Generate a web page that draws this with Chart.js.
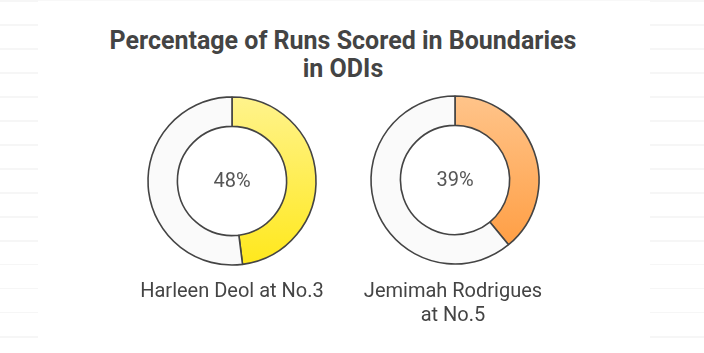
<!DOCTYPE html>
<html>
<head>
<meta charset="utf-8">
<script src="https://cdn.jsdelivr.net/npm/chart.js@4"></script>
<style>
  html, body { margin: 0; padding: 0; background: #fff; }
  body { width: 704px; height: 353px; position: relative; overflow: hidden; font-family: Roboto, "Noto Sans", sans-serif; color: #444; }
  .rules { position: absolute; top: 0; height: 353px;
    background: repeating-linear-gradient(to bottom, #f6f6f6 0px, #f6f6f6 1.5px, transparent 1.5px, transparent 24px); }
  .topline { position: absolute; top: 0; left: 38px; width: 612px; height: 1px; background: #f8f8f8; }
  .title { position: absolute; left: 0; width: 686px; top: 27px; text-align: center;
    font-weight: 700; font-size: 25px; line-height: 28px; color: #444; }
  .donut { position: absolute; width: 200px; height: 200px; }
  .center { position: absolute; width: 100px; text-align: center; font-size: 20px; color: #555; line-height: 20px; }
  .label { position: absolute; width: 260px; text-align: center; font-size: 20px; line-height: 24px; color: #444; }
</style>
</head>
<body>
<div class="rules" style="left:0;width:38px"></div>
<div class="rules" style="left:650px;width:54px"></div>
<div class="topline"></div>
<div class="title">Percentage of Runs Scored in Boundaries<br>in ODIs</div>

<div class="donut" style="left:132px;top:81px"><canvas id="c0" width="200" height="200"></canvas></div>
<div class="donut" style="left:355px;top:80px"><canvas id="c1" width="200" height="200"></canvas></div>
<div class="center" id="t0" style="left:182px;top:170px"></div>
<div class="center" id="t1" style="left:405px;top:169px"></div>
<div class="label" id="l0" style="left:102px;top:278px"></div>
<div class="label" id="l1" style="left:323px;top:278px"></div>

<script>
const players = ["Harleen Deol at No.3", "Jemimah Rodrigues\nat No.5"];
const boundaryPct = [48, 39];
const gradTop = ["#fff38c", "#ffc48a"];
const gradBottom = ["#ffe81c", "#ff9a3c"];

players.forEach((name, i) => {
  document.getElementById("t" + i).textContent = boundaryPct[i] + "%";
  document.getElementById("l" + i).innerHTML = name.replace("\n", "<br>");

  new Chart(document.getElementById("c" + i), {
    type: "doughnut",
    data: {
      labels: ["Boundaries", "Other"],
      datasets: [{
        data: [boundaryPct[i], 100 - boundaryPct[i]],
        backgroundColor: (ctx) => {
          if (ctx.dataIndex === 1) return "#fafafa";
          const area = ctx.chart.chartArea;
          if (!area) return gradBottom[i];
          const g = ctx.chart.ctx.createLinearGradient(0, area.top + 16, 0, area.bottom - 16);
          g.addColorStop(0, gradTop[i]);
          g.addColorStop(1, gradBottom[i]);
          return g;
        },
        borderColor: "#444",
        borderWidth: 1.6,
        borderAlign: "center",
      }],
    },
    options: {
      responsive: false,
      animation: false,
      radius: 84,
      cutout: "65%",
      plugins: { legend: { display: false }, tooltip: { enabled: false } },
    },
  });
});
</script>
</body>
</html>
